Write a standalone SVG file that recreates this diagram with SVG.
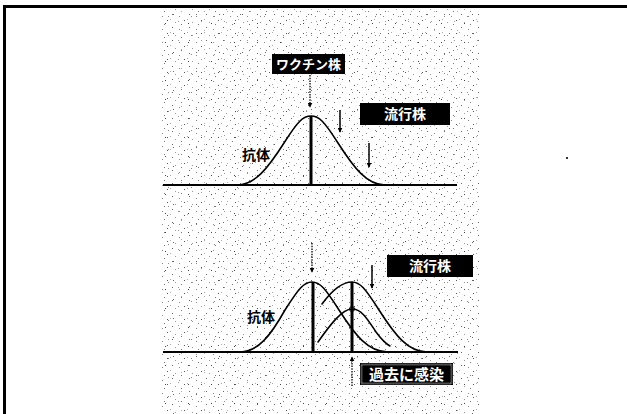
<svg xmlns="http://www.w3.org/2000/svg" width="627" height="414" viewBox="0 0 627 414">
<style>
.lbl{fill:#fff;font-family:"Noto Sans CJK JP","Noto Sans CJK SC",sans-serif;font-weight:bold;text-anchor:middle}
.ab{fill:#000;font-family:"Noto Sans CJK JP","Noto Sans CJK SC",sans-serif;font-weight:bold;font-size:14px}
.box{fill:#000}
.curve{fill:none;stroke:#000;stroke-width:1.6;stroke-linejoin:round;stroke-linecap:round}
.axis{stroke:#000;stroke-width:2.2}
.vline{stroke:#000;stroke-width:3}
.dotarrow{stroke:#000;stroke-width:1.3;stroke-dasharray:1.5 1.2;fill:none}
.arrow{stroke:#000;stroke-width:1.5;fill:none}
</style>
<defs>
<marker id="ah" viewBox="0 0 8 8" refX="7" refY="4" markerWidth="5" markerHeight="5" orient="auto" markerUnits="userSpaceOnUse">
<path d="M0,0 L8,4 L0,8 z" fill="#000"/>
</marker>
<pattern id="dotsA" width="17" height="13" patternUnits="userSpaceOnUse">
<rect x="2" y="1" width="1" height="1" fill="#666"/>
<rect x="9" y="3" width="1" height="1" fill="#888"/>
<rect x="14" y="7" width="1" height="1" fill="#555"/>
<rect x="5" y="9" width="1" height="1" fill="#999"/>
<rect x="11" y="11" width="1" height="1" fill="#777"/>
<rect x="0" y="6" width="1" height="1" fill="#aaa"/>
</pattern>
<pattern id="dotsB" width="23" height="19" patternUnits="userSpaceOnUse">
<rect x="4" y="4" width="1" height="1" fill="#444"/>
<rect x="17" y="2" width="1" height="1" fill="#999"/>
<rect x="12" y="14" width="1" height="1" fill="#666"/>
<rect x="20" y="11" width="1" height="1" fill="#aaa"/>
<rect x="7" y="16" width="1" height="1" fill="#888"/>
</pattern>
</defs>
<rect x="0" y="0" width="627" height="414" fill="#fff"/>
<g id="texture">
<rect x="160" y="9" width="320" height="405" fill="url(#dotsA)"/>
<rect x="160" y="9" width="320" height="405" fill="url(#dotsB)"/>
</g>
<g id="frame">
<line x1="3" y1="6.5" x2="627" y2="6.5" stroke="#000" stroke-width="3"/>
<line x1="4.5" y1="5" x2="4.5" y2="414" stroke="#000" stroke-width="3"/>
<rect x="566" y="157" width="2" height="2" fill="#333"/>
</g>
<g id="top-chart">
<line class="axis" x1="163" y1="185" x2="457" y2="185"/>
<path class="curve" d="M237,185 C255,185 268,168 284,143 C298,121 303,116 311,116 C319,116 324,121 338,143 C354,168 367,185 385,185"/>
<line class="vline" x1="311" y1="116" x2="311" y2="185"/>
</g>
<g id="bottom-chart">
<line class="axis" x1="163" y1="352" x2="458" y2="352"/>
<path class="curve" d="M240,352 C258,352 271,335 285,310 C299,288 304,282 312,282 C320,282 325,288 339,310 C355,335 368,352 388,352"/>
<path class="curve" d="M322,304 C333,289 342,282 352,282 C360,282 365,288 379,310 C395,335 408,352 427,352"/>
<path class="curve" d="M318,342 C330,325 342,309 352,309 C362,309 368,320 376,332 C382,340 386,344 390,346"/>
<line class="vline" x1="313" y1="282" x2="313" y2="352"/>
<line class="vline" x1="352" y1="282" x2="352" y2="352"/>
<circle cx="352" cy="309" r="2.5" fill="none" stroke="#000" stroke-width="1"/>
</g>
<g id="vaccine-label">
<rect class="box" x="272" y="54" width="73" height="20"/>
<text class="lbl" x="308.5" y="69" font-size="13">ワクチン株</text>
</g>
<g id="epidemic-label-top">
<rect class="box" x="360" y="103" width="90" height="22"/>
<text class="lbl" x="405" y="119" font-size="14">流行株</text>
</g>
<g id="antibody-top">
<text class="ab" x="242" y="160">抗体</text>
</g>
<g id="epidemic-label-bottom">
<rect class="box" x="387" y="255" width="86" height="22"/>
<text class="lbl" x="430" y="271" font-size="14">流行株</text>
</g>
<g id="antibody-bottom">
<text class="ab" x="247" y="322">抗体</text>
</g>
<g id="past-infection-label">
<rect class="box" x="360" y="363" width="93" height="22"/>
<rect x="361.5" y="364.5" width="90" height="19" fill="none" stroke="#999" stroke-width="2" stroke-dasharray="1 1"/>
<text class="lbl" x="406.5" y="380" font-size="15">過去に感染</text>
</g>
<g id="connectors">
<line class="dotarrow" x1="310" y1="75" x2="310" y2="107" marker-end="url(#ah)"/>
<line class="arrow" x1="340" y1="110" x2="340" y2="132" marker-end="url(#ah)"/>
<line class="arrow" x1="369" y1="143" x2="369" y2="167" marker-end="url(#ah)"/>
<line class="dotarrow" x1="312" y1="243" x2="312" y2="272" marker-end="url(#ah)"/>
<line class="arrow" x1="372" y1="265" x2="372" y2="288" marker-end="url(#ah)"/>
<line class="dotarrow" x1="352" y1="386" x2="352" y2="357" marker-end="url(#ah)"/>
</g>
</svg>
